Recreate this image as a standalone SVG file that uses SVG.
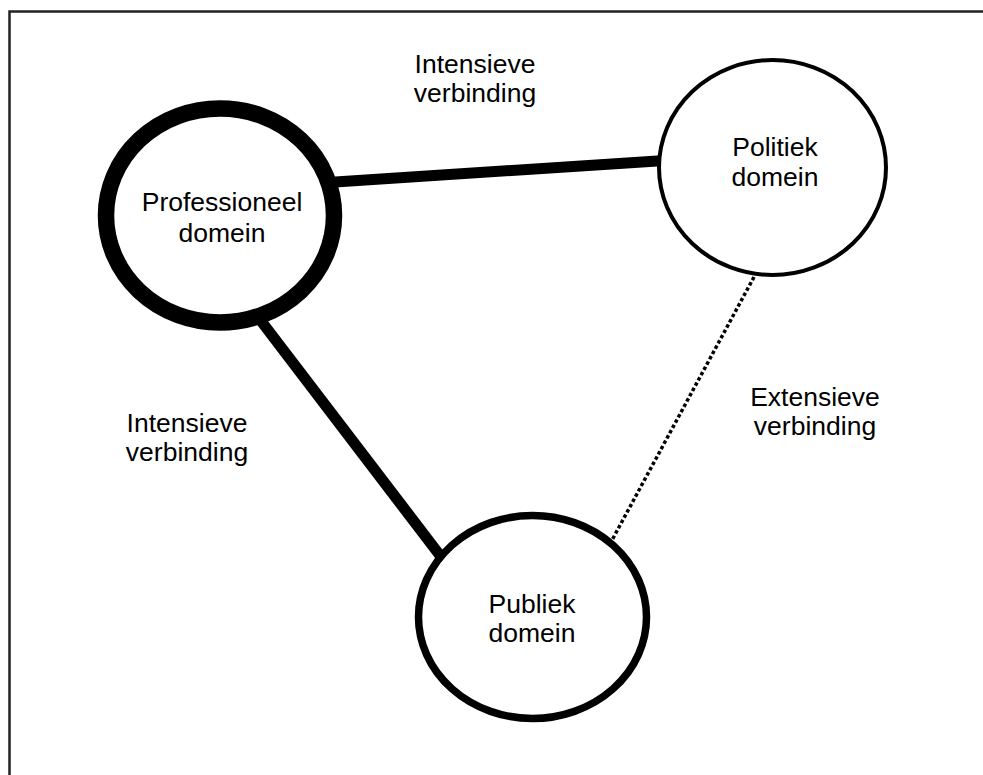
<svg xmlns="http://www.w3.org/2000/svg" width="983" height="775" viewBox="0 0 983 775">
<style>
text{font-family:"Liberation Sans",Arial,sans-serif;font-size:26.5px;fill:#000;text-anchor:middle}
.node{fill:#fff;stroke:#000}
</style>
<rect x="0" y="0" width="983" height="775" fill="#fff"/>
<rect x="9.5" y="11.5" width="1000" height="800" fill="none" stroke="#222" stroke-width="2.5"/>
<g id="connectors" stroke="#000" fill="none">
<line x1="320" y1="183" x2="665" y2="160.5" stroke-width="11"/>
<line x1="255" y1="313" x2="445" y2="562" stroke-width="11"/>
<line x1="754" y1="277" x2="611" y2="542" stroke-width="3.5" stroke-dasharray="3.5 2.5"/>
</g>
<g id="professioneel">
<ellipse class="node" cx="220" cy="215.5" rx="114" ry="107" stroke-width="16.5"/>
<text x="222" y="211">Professioneel</text>
<text x="222" y="242">domein</text>
</g>
<g id="politiek">
<ellipse class="node" cx="772.5" cy="167.5" rx="113.5" ry="107.5" stroke-width="4"/>
<text x="775" y="156">Politiek</text>
<text x="775" y="186">domein</text>
</g>
<g id="publiek">
<ellipse class="node" cx="532.5" cy="617" rx="114" ry="101.5" stroke-width="7.5"/>
<text x="532" y="613">Publiek</text>
<text x="532" y="642">domein</text>
</g>
<g id="labels">
<text x="475" y="73">Intensieve</text>
<text x="475" y="102">verbinding</text>
<text x="187" y="432">Intensieve</text>
<text x="187" y="461">verbinding</text>
<text x="815" y="406">Extensieve</text>
<text x="815" y="435">verbinding</text>
</g>
</svg>
